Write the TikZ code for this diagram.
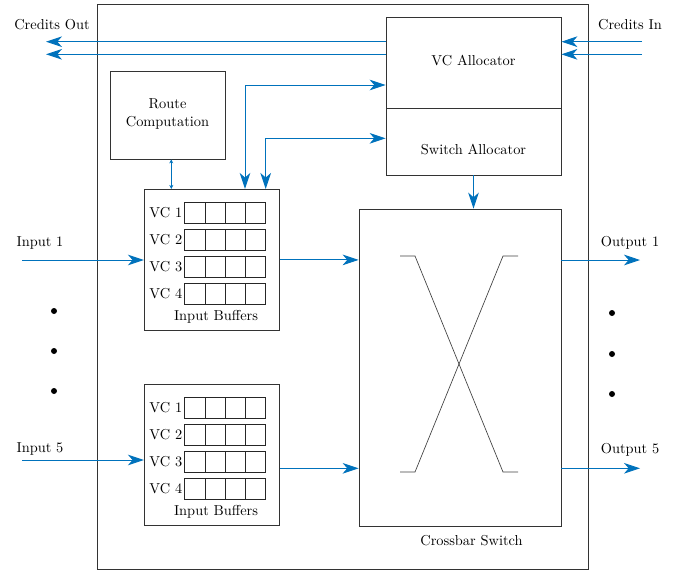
\documentclass[tikz,border=0pt]{standalone}
\usetikzlibrary{arrows.meta,fit}

\definecolor{fluxo}{RGB}{0,114,188}

\tikzset{
	Ponta/.tip={Stealth[length=12pt,width=8pt,inset=3.5pt]},
	caixa/.style={draw=black!80, line width=0.6pt, inner sep=0pt},
	celula/.style={draw=black!85, line width=0.6pt},
	seta/.style={draw=fluxo, line width=0.7pt, -Ponta},
	setas/.style={draw=fluxo, line width=0.7pt, Ponta-Ponta},
	setadupla/.style={draw=fluxo, line width=0.5pt, {Stealth[length=3pt,width=3pt]}-{Stealth[length=3pt,width=3pt]}},
	rotulo/.style={font=\fontsize{10.8}{13.5}\selectfont, inner sep=0pt, align=center}
}

\begin{document}
\begin{tikzpicture}[x=0.75pt, y=-0.75pt]
\useasboundingbox (0,0) rectangle (681,579);

% Caixas principais
	\node[caixa, fit={(97,4) (588,569)}] (roteador) {};
	\node[caixa, fit={(386,17) (561,108)}] (vca) {};
	\node[caixa, fit={(386,108) (561,175)}] (swa) {};
	\node[caixa, fit={(110,71) (225,159)}] (rc) {};
	\node[caixa, fit={(359,209) (561,526)}] (xbar) {};

	\node[rotulo] (vca-txt) at (473.5,60) {VC Allocator};
	\node[rotulo] (swa-txt) at (473.5,149) {Switch Allocator};
	\node[rotulo] (rc-txt) at (167.5,114) {Route\\Computation};
	\node[rotulo] (xbar-txt) at (471.5,541) {Crossbar Switch};

% Buffers de entrada
	\foreach \b/\t in {ib1/189.3, ib5/384.3} {
		\node[caixa, fit={(144.3,\t) (279.3,\t+141.2)}] (\b) {};
		\foreach \r in {1, 2, ..., 4} {
			\node[rotulo, anchor=east] (\b-vc\r) at (182.5,\t+13+27*\r-27+10.3) {VC \r};
			\foreach \c in {0, 1, ..., 3}
				\draw[celula] (184.7+20.25*\c,\t+13+27*\r-27) rectangle ++(20.25,20.7);
		}
		\node[rotulo] (\b-txt) at (216,\t+127.4) {Input Buffers};
	}

% Chave cruzada
	\draw[black!75, line width=0.5pt] (400,256) -- (415,256) -- (503,472) -- (518,472);
	\draw[black!75, line width=0.5pt] (518,256) -- (503,256) -- (415,472) -- (400,472);

% Pontos livres
	\coordinate (cout1) at (46,41.7);
	\coordinate (cout2) at (46,54.3);
	\coordinate (cin1) at (642,41.7);
	\coordinate (cin2) at (642,54.3);
	\coordinate (in1) at (22,260);
	\coordinate (in5) at (22,460);
	\coordinate (mid5) at (300,468.3);
	\coordinate (out1) at (640,260);
	\coordinate (out5) at (640,468.3);
	\coordinate (va) at (245,85);
	\coordinate (sa) at (265.7,138.3);
	\coordinate (rb) at (171.3,0);

% Creditos
	\draw[seta] (vca.west |- cout1) -- (cout1);
	\draw[seta] (vca.west |- cout2) -- (cout2);
	\draw[seta] (cin1) -- (cin1 -| vca.east);
	\draw[seta] (cin2) -- (cin2 -| vca.east);
	\node[rotulo] (cout-txt) at (52,25) {Credits Out};
	\node[rotulo] (cin-txt) at (630,25) {Credits In};

% Alocadores
	\draw[setas] (va -| vca.west) -| (va |- ib1.north);
	\draw[setas] (sa -| swa.west) -| (sa |- ib1.north);
	\draw[setadupla] (rb |- rc.south) -- (rb |- ib1.north);
	\draw[seta] (swa.south) -- (swa.south |- xbar.north);

% Entradas e saidas
	\draw[seta] (in1) -- (in1 -| ib1.west);
	\draw[seta] (in5) -- (in5 -| ib5.west);
	\draw[seta] (ib1.east) -- (ib1.east -| xbar.west);
	\draw[seta] (mid5 -| ib5.east) -- (mid5 -| xbar.west);
	\draw[seta] (xbar.east |- out1) -- (out1);
	\draw[seta] (xbar.east |- out5) -- (out5);

	\node[rotulo] (in1-txt) at (40,243) {Input 1};
	\node[rotulo] (in5-txt) at (40,449) {Input 5};
	\node[rotulo] (out1-txt) at (630,243) {Output 1};
	\node[rotulo] (out5-txt) at (630,450) {Output 5};

	\foreach \y in {311, 351, 391}
		\fill (54,\y) circle (3);
	\foreach \y in {313, 354, 394}
		\fill (612,\y) circle (3);

\end{tikzpicture}
\end{document}
